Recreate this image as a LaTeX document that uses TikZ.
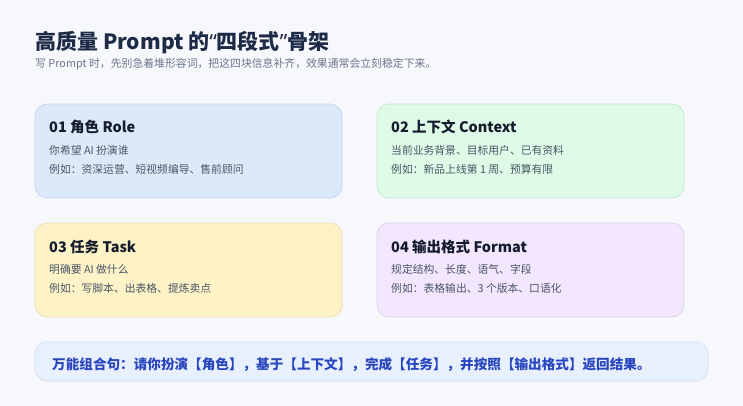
\documentclass[tikz,border=0pt]{standalone}
\usepackage{fontspec}
\setmainfont{Noto Sans CJK SC}
\newfontfamily\quotefont{Noto Sans}
\definecolor{bg}{HTML}{F6F8FC}
\definecolor{titlec}{HTML}{1E2B47}
\definecolor{subc}{HTML}{6B778C}
\definecolor{headc}{HTML}{141B2D}
\definecolor{bodyc}{HTML}{4B5567}
\definecolor{bluef}{HTML}{DCE9FB}\definecolor{blued}{HTML}{C8D7EE}
\definecolor{greenf}{HTML}{DDFBE6}\definecolor{greend}{HTML}{C9E5D3}
\definecolor{yellowf}{HTML}{FEF3C7}\definecolor{yellowd}{HTML}{EBDDB2}
\definecolor{purplef}{HTML}{F3E7FD}\definecolor{purpled}{HTML}{DCD2EC}
\definecolor{barf}{HTML}{E8F0FD}\definecolor{bard}{HTML}{D4E0F5}
\definecolor{barc}{HTML}{2946BE}
\begin{document}
\begin{tikzpicture}[x=1pt,y=-1pt,
  card/.style={draw=#1,line width=0.8pt,rounded corners=12pt},
  cardhead/.style={anchor=base west,inner sep=0pt,font=\fontsize{14.5}{16}\selectfont\bfseries,text=headc},
  cardbody/.style={anchor=base west,inner sep=0pt,font=\fontsize{10.8}{12}\selectfont,text=bodyc}]
\useasboundingbox[fill=bg] (0,0) rectangle (743,406);
\node[anchor=base west,inner sep=0pt,font=\fontsize{21}{24}\selectfont\bfseries,text=titlec] (title) at (35,50) {高质量 Prompt 的{\quotefont“}四段式{\quotefont”}骨架};
\node[anchor=base west,inner sep=0pt,font=\fontsize{10.85}{12}\selectfont,text=subc] (sub) at (35,68) {写 Prompt 时，先别急着堆形容词，把这四块信息补齐，效果通常会立刻稳定下来。};
% cards
\path[card=blued,fill=bluef] (35,104) rectangle (342,198);
\node[cardhead] (h1) at (49,133) {01 角色 Role};
\node[cardbody] (a1) at (49,154) {你希望 AI 扮演谁};
\node[cardbody] (b1) at (49,173) {例如：资深运营、短视频编导、售前顾问};
\path[card=greend,fill=greenf] (377,104) rectangle (684,198);
\node[cardhead] (h2) at (391,133) {02 上下文 Context};
\node[cardbody] (a2) at (391,154) {当前业务背景、目标用户、已有资料};
\node[cardbody] (b2) at (391,173) {例如：新品上线第 1 周、预算有限};
\path[card=yellowd,fill=yellowf] (35,223) rectangle (342,317);
\node[cardhead] (h3) at (49,252) {03 任务 Task};
\node[cardbody] (a3) at (49,273) {明确要 AI 做什么};
\node[cardbody] (b3) at (49,292) {例如：写脚本、出表格、提炼卖点};
\path[card=purpled,fill=purplef] (377,223) rectangle (684,317);
\node[cardhead] (h4) at (391,252) {04 输出格式 Format};
\node[cardbody] (a4) at (391,273) {规定结构、长度、语气、字段};
\node[cardbody] (b4) at (391,292) {例如：表格输出、3 个版本、口语化};
% bar
\path[card=bard,fill=barf] (35,342) rectangle (708,381);
\node[anchor=base west,inner sep=0pt,font=\fontsize{13.6}{15}\selectfont\bfseries,text=barc] (bar) at (52,369) {万能组合句：请你扮演【角色】，基于【上下文】，完成【任务】，并按照【输出格式】返回结果。};
\end{tikzpicture}
\end{document}
